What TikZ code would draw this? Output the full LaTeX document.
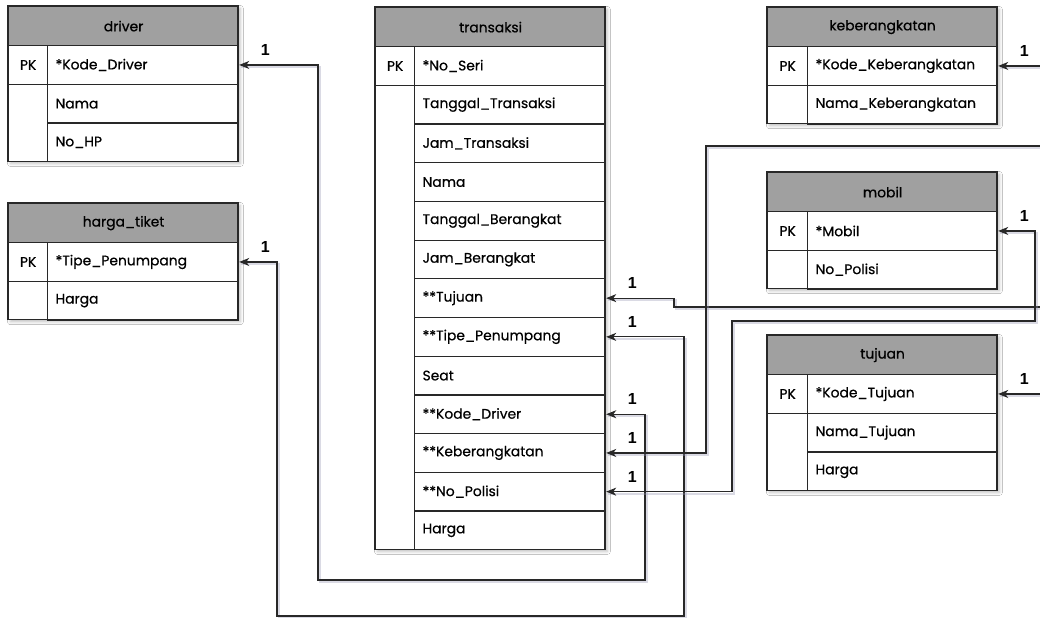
\documentclass[tikz,border=0pt]{standalone}
\usepackage{fontspec}
\setmainfont{Poppins}[UprightFeatures={FakeBold=0.6}]
\newfontfamily\labelfont{Liberation Sans}
\usetikzlibrary{arrows.meta,calc,shadows.blur}

\definecolor{inkc}{RGB}{40,40,40}
\definecolor{headc}{RGB}{160,160,160}
\definecolor{shadc}{RGB}{150,150,180}

\tikzset{
  every node/.style={font=\fontsize{10.4}{12}\selectfont, text=black},
  tablebody/.style={fill=white, blur shadow={shadow xshift=1.8pt, shadow yshift=-1.8pt,
      shadow blur radius=2.2pt, shadow opacity=25}},
  header/.style={draw=inkc, line width=0.9pt, fill=headc, minimum width=172.5pt,
      minimum height=29.25pt, inner sep=0pt},
  pkcell/.style={draw=inkc, line width=0.9pt, minimum height=29.025pt, inner sep=0pt},
  cell/.style={draw=inkc, line width=0.9pt, minimum height=29.025pt, inner xsep=6pt,
      inner ysep=0pt, align=left},
  rel/.style={draw=inkc, line width=0.9pt,
      {Stealth[length=7.5pt,width=6pt,inset=2.2pt]}-{Stealth[length=7.5pt,width=6pt,inset=2.2pt]},
      preaction={draw=shadc, opacity=0.35, line width=1.6pt, arrows=-,
                 transform canvas={shift={(1.5pt,-1.5pt)}}}},
  one/.style={font=\labelfont\bfseries\fontsize{12}{13}\selectfont, inner sep=0pt},
}

% #1 name, #2 left x, #3 top y, #4 key column width, #5 title, #6 row count, #7 fields
\newcommand{\erdtable}[7]{%
  \pgfmathsetmacro\erdcellw{(230-#4)*0.75}%
  \pgfmathsetmacro\erdtextw{\erdcellw-12}%
  \pgfmathsetmacro\erdbottom{#3+39+#6*38.7}%
  \path[tablebody] (#2,#3) rectangle ({#2+230},\erdbottom);
  \node[header, anchor=north west] (#1) at (#2,#3) {#5};
  \node[pkcell, minimum width=#4*0.75pt, anchor=north west] (#1-pk) at (#2,#3+39) {PK};
  \foreach \f [count=\i] in {#7}{
    \node[cell, text width=\erdtextw pt, anchor=north west] (#1-\i)
      at ({#2+#4},{#3+39+(\i-1)*38.7}) {\f};
  }
  \draw[draw=inkc, line width=0.9pt] (#2,#3) rectangle ({#2+230},\erdbottom);
}

\begin{document}
\begin{tikzpicture}[x=0.75pt, y=-0.75pt]
  \useasboundingbox (0,0) rectangle (1040,618);
  \fill[white] (0,0) rectangle (1040,618);
  \clip (0,0) rectangle (1040,618);

  % tables
  \erdtable{driver}{8}{6}{39}{driver}{3}{*Kode\_Driver,Nama,No\_HP}
  \erdtable{harga}{8}{203}{39}{harga\_tiket}{2}{*Tipe\_Penumpang,Harga}
  \erdtable{transaksi}{375}{7}{39}{transaksi}{13}{*No\_Seri,Tanggal\_Transaksi,Jam\_Transaksi,Nama,Tanggal\_Berangkat,Jam\_Berangkat,**Tujuan,**Tipe\_Penumpang,Seat,**Kode\_Driver,**Keberangkatan,**No\_Polisi,Harga}
  \erdtable{keberangkatan}{767}{7}{40}{keberangkatan}{2}{*Kode\_Keberangkatan,Nama\_Keberangkatan}
  \erdtable{mobil}{767}{172}{40}{mobil}{2}{*Mobil,No\_Polisi}
  \erdtable{tujuan}{767}{335}{40}{tujuan}{3}{*Kode\_Tujuan,Nama\_Tujuan,Harga}

  % relations
  \draw[rel] (transaksi-10.east) -| (645,580) -- (318,580) |- (driver-1.east);
  \draw[rel] (transaksi-8.east) -| (684,616) -- (277,616) |- (harga-1.east);
  \draw[rel] (transaksi-7.east) -| (674,307) -- (1046,307) |- (tujuan-1.east);
  \draw[rel] (transaksi-11.east) -| (706,146) -- (1046,146) |- (keberangkatan-1.east);
  \draw[rel] (transaksi-12.east) -| (732,321) -- (1035,321) |- (mobil-1.east);

  % cardinality labels
  \node[one] (c-drv-a) at ($(transaksi-10.east)+(26,-15)$) {1};
  \node[one] (c-drv-b) at ($(driver-1.east)+(26,-15)$) {1};
  \node[one] (c-hrg-a) at ($(transaksi-8.east)+(26,-15)$) {1};
  \node[one] (c-hrg-b) at ($(harga-1.east)+(26,-15)$) {1};
  \node[one] (c-tuj-a) at ($(transaksi-7.east)+(26,-15)$) {1};
  \node[one] (c-tuj-b) at ($(tujuan-1.east)+(26,-15)$) {1};
  \node[one] (c-keb-a) at ($(transaksi-11.east)+(26,-15)$) {1};
  \node[one] (c-keb-b) at ($(keberangkatan-1.east)+(26,-15)$) {1};
  \node[one] (c-mob-a) at ($(transaksi-12.east)+(26,-15)$) {1};
  \node[one] (c-mob-b) at ($(mobil-1.east)+(26,-15)$) {1};
\end{tikzpicture}
\end{document}
